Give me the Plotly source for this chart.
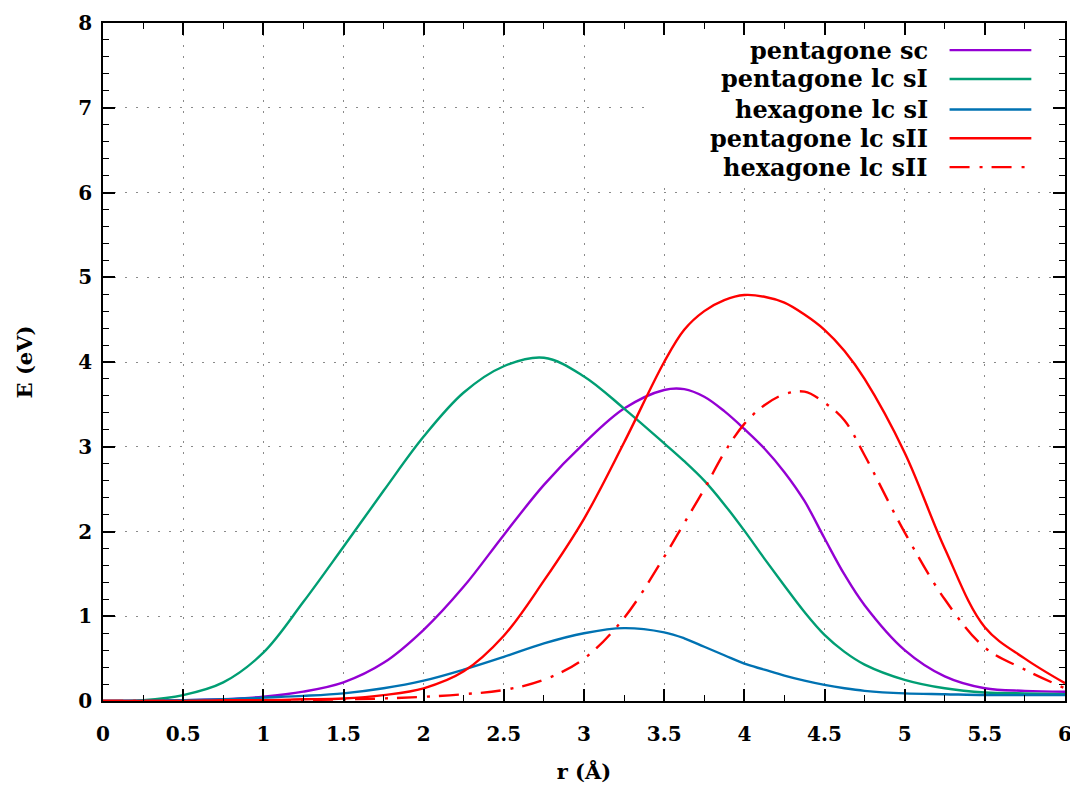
import plotly.graph_objects as go

# ---------------- data ----------------
r = [0, 0.25, 0.5, 0.75, 1.0, 1.25, 1.5, 1.75, 2.0, 2.25, 2.5, 2.75, 3.0,
     3.25, 3.5, 3.625, 3.75, 3.875, 4.0, 4.125, 4.25, 4.375, 4.5, 4.625, 4.75,
     5.0, 5.25, 5.5, 5.75, 6.0]

pentagone_sc = [0, 0.0, 0.01, 0.02, 0.05, 0.11, 0.22, 0.45, 0.84, 1.35, 1.96, 2.55, 3.04,
                3.45, 3.67, 3.68, 3.59, 3.42, 3.21, 2.98, 2.7, 2.36, 1.92, 1.49, 1.13,
                0.6, 0.29, 0.15, 0.12, 0.11]
pentagone_lc_sI = [0, 0.01, 0.07, 0.22, 0.57, 1.17, 1.82, 2.48, 3.12, 3.64, 3.95, 4.05, 3.83,
                   3.45, 3.04, 2.83, 2.6, 2.32, 2.01, 1.68, 1.36, 1.05, 0.78, 0.58, 0.43,
                   0.25, 0.15, 0.1, 0.09, 0.08]
hexagone_lc_sI = [0, 0.005, 0.01, 0.02, 0.04, 0.06, 0.09, 0.15, 0.24, 0.37, 0.52, 0.68, 0.8,
                  0.86, 0.81, 0.74, 0.64, 0.54, 0.44, 0.37, 0.3, 0.24, 0.19, 0.15, 0.12,
                  0.09, 0.08, 0.07, 0.07, 0.07]
pentagone_lc_sII = [0, 0.0, 0.0, 0.01, 0.01, 0.02, 0.03, 0.07, 0.15, 0.35, 0.77, 1.42, 2.15,
                    3.05, 4.0, 4.38, 4.6, 4.73, 4.79, 4.77, 4.7, 4.56, 4.38, 4.13, 3.8,
                    2.93, 1.8, 0.87, 0.5, 0.21]
hexagone_lc_sII = [0, 0.0, 0.0, 0.0, 0.0, 0.01, 0.02, 0.03, 0.05, 0.08, 0.13, 0.25, 0.5,
                   0.98, 1.7, 2.1, 2.5, 2.93, 3.27, 3.49, 3.62, 3.65, 3.52, 3.31, 2.9,
                   1.99, 1.2, 0.63, 0.37, 0.15]

names = ["pentagone sc", "pentagone lc sI", "hexagone lc sI",
         "pentagone lc sII", "hexagone lc sII"]
colors = ["#9400d3", "#009e73", "#0072b2", "#ff0000", "#ff0000"]
dashes = ["solid", "solid", "solid", "solid", "20px,10px,3px,9px"]
series = [pentagone_sc, pentagone_lc_sI, hexagone_lc_sI, pentagone_lc_sII, hexagone_lc_sII]

x_ticks = [0, 0.5, 1, 1.5, 2, 2.5, 3, 3.5, 4, 4.5, 5, 5.5, 6]
x_ticklabels = ["0", "0.5", "1", "1.5", "2", "2.5", "3", "3.5", "4", "4.5", "5", "5.5", "6"]
y_ticks = [0, 1, 2, 3, 4, 5, 6, 7, 8]

# legend placement (data coords)
legend_text_x = 5.16
legend_line_x = (5.28, 5.79)
legend_rows_y = [7.68, 7.34, 6.98, 6.64, 6.30]

FONT = "DejaVu Serif"

fig = go.Figure()
for name, ys, c, d in zip(names, series, colors, dashes):
    fig.add_trace(go.Scatter(
        x=r, y=ys, name=name, mode="lines",
        line=dict(color=c, width=2.4, dash=d, shape="spline", smoothing=1.0),
        showlegend=False,
    ))

# legend background (hides grid like gnuplot key box)
fig.add_shape(type="rect", xref="x", yref="y", x0=3.42, x1=6, y0=6.08, y1=8,
              fillcolor="white", line=dict(width=0), layer="between")

for name, c, d, yy in zip(names, colors, dashes, legend_rows_y):
    fig.add_annotation(x=legend_text_x, y=yy, xref="x", yref="y", text="<b>%s</b>" % name,
                       showarrow=False, xanchor="right", yanchor="middle",
                       font=dict(family=FONT, size=24, color="black"))
    fig.add_shape(type="line", xref="x", yref="y", x0=legend_line_x[0], x1=legend_line_x[1],
                  y0=yy, y1=yy, line=dict(color=c, width=2.4, dash=d), layer="above")

axis_common = dict(
    showline=True, linecolor="black", linewidth=1.5, mirror="ticks",
    ticks="inside", ticklen=12, tickwidth=1.5, tickcolor="black",
    showgrid=True, gridcolor="#8a8a8a", gridwidth=1, griddash="2px,9px",
    zeroline=False,
    tickfont=dict(family=FONT, size=20, color="black", weight="bold"),
)

fig.update_xaxes(range=[0, 6], tickvals=x_ticks, ticktext=x_ticklabels, ticklabelstandoff=14,
                 minor=dict(ticks="inside", ticklen=6, dtick=0.25, tickcolor="black", tickwidth=1.2, showgrid=False),
                 title=dict(text="<b>r (Å)</b>", font=dict(family=FONT, size=21, color="black"), standoff=20),
                 **axis_common)
fig.update_yaxes(range=[0, 8], tickvals=y_ticks, ticklabelstandoff=5,
                 minor=dict(ticks="inside", ticklen=6, dtick=0.2, tickcolor="black", tickwidth=1.2, showgrid=False),
                 title=dict(text="<b>E (eV)</b>", font=dict(family=FONT, size=21, color="black"), standoff=40),
                 **axis_common)

fig.update_layout(
    width=1070, height=779,
    margin=dict(l=95, r=13, t=15, b=86, autoexpand=False),
    paper_bgcolor="white", plot_bgcolor="white",
    font=dict(family=FONT, color="black"),
)

fig.write_html("out.html")
